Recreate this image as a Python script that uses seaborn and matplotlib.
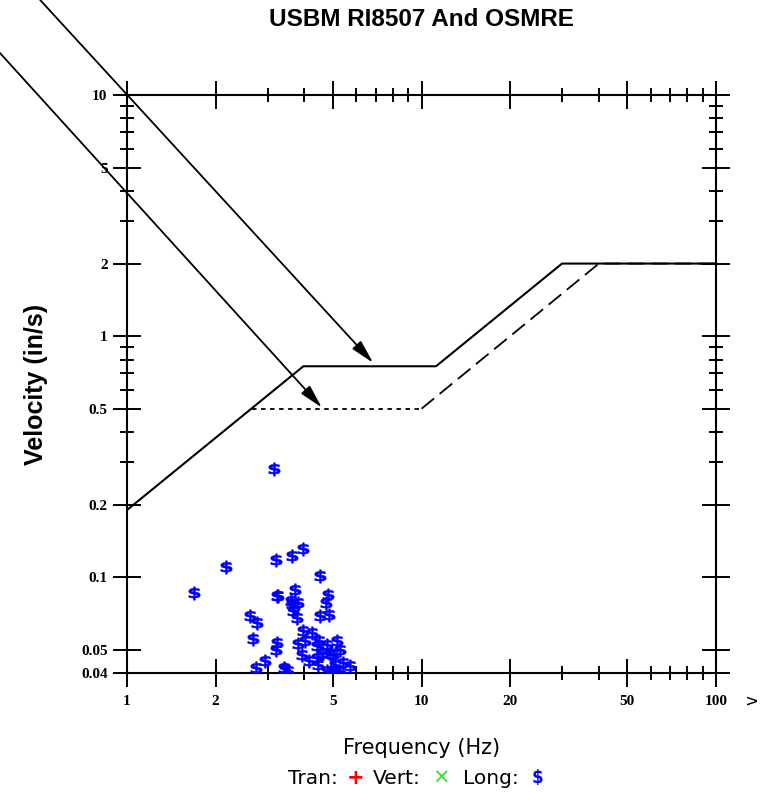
import matplotlib
matplotlib.use("Agg")
import matplotlib.pyplot as plt
from matplotlib.textpath import TextPath
from matplotlib.font_manager import FontProperties
from matplotlib.transforms import Affine2D
import seaborn as sns

# USBM RI8507 limit curve (solid line)
usbm_freq = [1, 3.97, 11.2, 30, 100]
usbm_vel = [0.19, 0.75, 0.75, 2.0, 2.0]

# OSMRE limit curve (dashed line)
osm_freq = [2.66, 10, 40, 100]
osm_vel = [0.5, 0.5, 2.0, 2.0]

# Longitudinal peak particle velocity readings
long_freq = [3.16, 3.97, 3.63, 3.21, 2.17, 1.69, 4.51, 3.72, 3.22, 3.25,
             4.80, 4.73, 3.62, 3.67, 3.82, 3.60, 3.70, 2.62, 2.77, 3.77,
             4.52, 4.86, 2.67, 3.97, 4.24, 4.02, 4.50, 4.76, 5.15, 3.24,
             3.21, 3.94, 4.41, 5.02, 2.94, 2.74, 3.40, 3.53, 4.46, 4.76,
             5.09, 5.29, 5.72, 4.15, 4.63, 3.81, 4.90, 5.30, 4.40, 3.45,
             5.00, 5.40]
long_vel = [0.280, 0.1315, 0.122, 0.1177, 0.110, 0.0859, 0.101, 0.0883, 0.0834, 0.0840,
            0.0848, 0.0782, 0.0773, 0.0722, 0.0782, 0.080, 0.075, 0.0689, 0.0646, 0.0678,
            0.0689, 0.070, 0.0557, 0.0597, 0.0587, 0.0543, 0.0543, 0.0526, 0.0543, 0.0534,
            0.0501, 0.0478, 0.0463, 0.0478, 0.0448, 0.0420, 0.0420, 0.0410, 0.0434, 0.0410,
            0.0434, 0.0410, 0.0427, 0.0448, 0.0485, 0.0527, 0.0480, 0.0500, 0.0520, 0.0415,
            0.0412, 0.0440]

# axis ticks
x_major = [1, 2, 5, 10, 20, 50, 100]
x_labels = ["1", "2", "5", "10", "20", "50", "100"]
x_minor = [3, 4, 6, 7, 8, 9, 30, 40, 60, 70, 80, 90]
y_major = [0.04, 0.05, 0.1, 0.2, 0.5, 1, 2, 5, 10]
y_labels = ["0.04", "0.05", "0.1", "0.2", "0.5", "1", "2", "5", "10"]
y_minor = [0.3, 0.4, 0.6, 0.7, 0.8, 0.9, 3, 4, 6, 7, 8, 9]

# arrow tips (data) and tails (figure fraction)
arrow_tips = [(6.85, 0.775), (4.59, 0.505)]
arrow_tails = [(0.052, 1.0), (0.0, 0.933)]

sns.set_style("ticks")
plt.rcParams["font.family"] = ["DejaVu Sans"]
plt.rcParams["text.color"] = "black"
plt.rcParams["axes.labelcolor"] = "black"
plt.rcParams["xtick.color"] = "black"
plt.rcParams["ytick.color"] = "black"

# squat bold "$" glyph like the original marker, centred on the point
glyph = TextPath((0, 0), "$", prop=FontProperties(family="DejaVu Sans", weight="bold"))
ext = glyph.get_extents()
glyph = glyph.transformed(Affine2D().translate(-(ext.x0 + ext.x1) / 2,
                                               -(ext.y0 + ext.y1) / 2).scale(1.4, 1.0))

fig = plt.figure(figsize=(7.72, 7.92), dpi=100)
ax = fig.add_axes([0.1645, 0.150, 0.763, 0.730])
ax.set_xscale("log")
ax.set_yscale("log")

sns.lineplot(x=usbm_freq, y=usbm_vel, ax=ax, color="black", linewidth=1.5,
             sort=False, estimator=None)
# flat part of OSMRE line uses short dashes, the slope longer ones
sns.lineplot(x=osm_freq[:2], y=osm_vel[:2], ax=ax, color="black", linewidth=1.3,
             sort=False, estimator=None).lines[-1].set_dashes((2.5, 2.5))
sns.lineplot(x=osm_freq[1:], y=osm_vel[1:], ax=ax, color="black", linewidth=1.3,
             sort=False, estimator=None).lines[-1].set_dashes((9, 4))

sns.scatterplot(x=long_freq, y=long_vel, ax=ax, marker=glyph, s=110,
                color="#0000ff", edgecolor="#0000ff", linewidth=0.4, zorder=3)

ax.set_xlim(1, 100)
ax.set_ylim(0.04, 10)

tick_font = dict(fontfamily="Liberation Serif", fontweight="bold", fontsize=11)
ax.set_xticks(x_major, labels=x_labels, **tick_font)
ax.set_xticks(x_minor, minor=True)
ax.set_yticks(y_major, labels=y_labels, **tick_font)
ax.set_yticks(y_minor, minor=True)
ax.xaxis.set_minor_formatter(plt.NullFormatter())
ax.yaxis.set_minor_formatter(plt.NullFormatter())
ax.tick_params(which="major", direction="inout", length=20, width=1.4,
               top=True, right=True, color="black")
ax.tick_params(which="minor", direction="inout", length=10, width=1.4,
               top=True, right=True, color="black")
ax.tick_params(axis="x", which="major", pad=6)
ax.tick_params(axis="y", which="major", pad=4)
for sp in ax.spines.values():
    sp.set_linewidth(1.5)
    sp.set_color("black")

ax.set_ylabel("Velocity (in/s)", fontfamily="Liberation Sans", fontweight="bold",
              fontsize=18)
ax.yaxis.set_label_coords(-0.134, 0.5)
ax.set_xlabel("Frequency (Hz)", fontsize=15)
ax.xaxis.set_label_coords(0.5, -0.112)

fig.text(0.546, 0.975, "USBM RI8507 And OSMRE", ha="center", va="center",
         fontfamily="Liberation Sans", fontweight="bold", fontsize=17.5)

# legend row under the x label
ly = 1 - 778 / 792
fig.text(288 / 772, ly, "Tran:", ha="left", va="center", fontsize=14.5)
fig.text(356 / 772, ly, "+", ha="center", va="center", fontsize=15, color="#ff0000",
         fontweight="bold")
fig.text(373 / 772, ly, "Vert:", ha="left", va="center", fontsize=14.5)
fig.text(441 / 772, ly, "\u00d7", ha="center", va="center", fontsize=15, color="#33dd33")
fig.text(463 / 772, ly, "Long:", ha="left", va="center", fontsize=14.5)
fig.text(537 / 772, ly, "$", ha="center", va="center", fontsize=12, color="#0000ff",
         fontweight="bold")

fig.text(752 / 772, 1 - 700 / 792, "v", rotation=90, ha="center", va="center",
         fontsize=12)

for tip, tail in zip(arrow_tips, arrow_tails):
    ax.annotate("", xy=tip, xycoords="data", xytext=tail, textcoords="figure fraction",
                annotation_clip=False,
                arrowprops=dict(arrowstyle="-|>,head_length=0.9,head_width=0.22",
                                color="black", lw=1.3, mutation_scale=16,
                                shrinkA=0, shrinkB=0))

fig.savefig("out.png", dpi=100, facecolor="white")
